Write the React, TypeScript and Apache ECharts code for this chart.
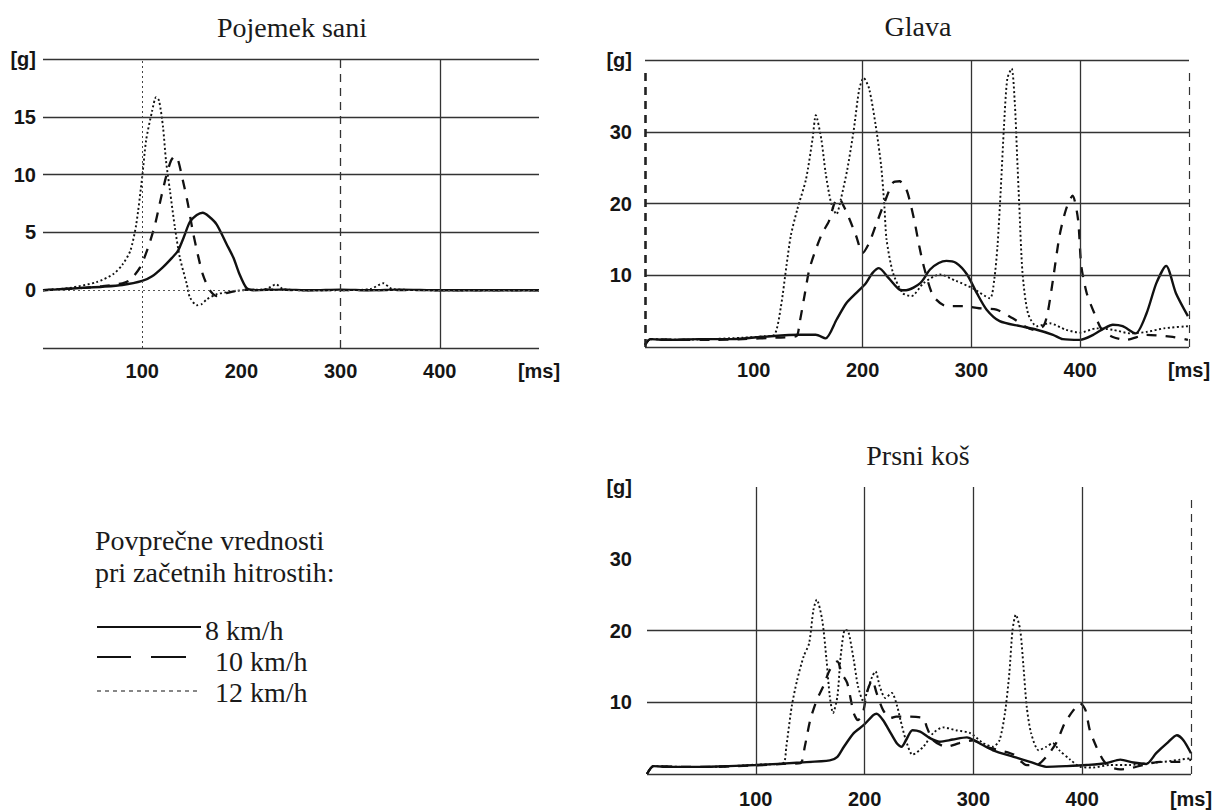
import React, { useEffect, useRef } from "react";
import * as echarts from "echarts";

// ---------- data (time in ms, acceleration in g) ----------
const panelTitles = ["Pojemek sani", "Glava", "Prsni koš"];
const legendHeader = ["Povprečne vrednosti", "pri začetnih hitrostih:"];
const legendNames = ["8 km/h", "10 km/h", "12 km/h"];

const xTickMax = 500;
const xTickStep = 100;

// Pojemek sani
const sani8: [number, number][] = [
  [0, 0], [20, 0.1], [40, 0.2], [60, 0.3], [80, 0.45], [100, 0.8], [110, 1.2], [121, 2.0], [130, 2.8],
  [136, 3.4], [142, 4.6], [148, 5.9], [155, 6.5], [161, 6.7], [167, 6.4], [175, 5.7], [185, 4.0],
  [192, 2.8], [198, 1.4], [205, 0.2], [212, 0], [240, 0.05], [270, 0], [300, 0.05], [330, 0],
  [360, 0.05], [400, 0], [450, 0], [500, 0],
];
const sani10: [number, number][] = [
  [0, 0], [20, 0.1], [40, 0.2], [60, 0.35], [80, 0.6], [88, 0.9], [98, 2.0], [106, 3.7], [113, 5.7],
  [119, 8.0], [124, 9.8], [129, 11.2], [133, 11.6], [136, 11.3], [141, 9.5], [146, 7.5], [151, 5.1],
  [156, 3.1], [161, 1.4], [168, 0], [175, -0.5], [185, -0.25], [198, 0], [230, 0.05], [260, 0],
  [300, 0], [350, 0], [400, 0], [500, 0],
];
const sani12: [number, number][] = [
  [0, 0], [27, 0.2], [54, 0.7], [71, 1.4], [80, 2.2], [88, 3.4], [94, 5.7], [100, 9.8], [104, 13],
  [110, 15.5], [114, 16.7], [117, 16.4], [121, 14.1], [124, 11.2], [128, 8.6], [133, 5.4], [138, 2.8],
  [145, 0.5], [148, -0.6], [155, -1.3], [160, -1.2], [165, -0.8], [175, -0.35], [188, -0.15],
  [202, 0], [225, 0.1], [235, 0.5], [242, 0.1], [260, 0], [300, 0], [330, 0.1], [343, 0.6],
  [352, 0.1], [400, 0], [500, 0],
];

// Glava
const glava8: [number, number][] = [
  [0, 0.3], [5, 1.1], [20, 1.0], [50, 1.1], [80, 1.1], [111, 1.45], [142, 1.7], [157, 1.7], [166, 1.2],
  [176, 3.8], [185, 6.1], [194, 7.5], [203, 8.9], [209, 10.3], [215, 11.0], [224, 9.6], [234, 8.0],
  [240, 7.9], [253, 8.9], [262, 10.8], [270, 11.7], [277, 12.0], [286, 11.7], [296, 10.1], [305, 7.5],
  [314, 5.2], [326, 3.6], [345, 2.9], [360, 2.4], [375, 1.7], [384, 1.1], [400, 1.0], [412, 1.7],
  [422, 2.6], [430, 3.1], [439, 2.9], [451, 1.9], [461, 4.7], [470, 8.9], [479, 11.3], [488, 7.5],
  [499, 4.3],
];
const glava10: [number, number][] = [
  [0, 0.3], [5, 1.1], [30, 1.0], [60, 1.0], [90, 1.1], [120, 1.3], [139, 1.5], [142, 3.3], [147, 7.5],
  [151, 10.8], [157, 13.6], [163, 15.9], [169, 17.5], [174, 20], [178, 20.8], [183, 19.5], [188, 17.8],
  [194, 15.5], [200, 13.1], [206, 14.5], [212, 16.9], [220, 20.1], [228, 22.9], [234, 23.1], [240, 22],
  [243, 20.6], [248, 17.3], [252, 14.1], [257, 10.8], [265, 7.1], [277, 5.7], [292, 5.7], [307, 5.4],
  [323, 5.2], [338, 4.0], [357, 2.4], [366, 2.9], [370, 4.7], [375, 9.4], [381, 15.5], [387, 19.2],
  [393, 21.1], [398, 17.8], [401, 11.3], [406, 7.5], [413, 4.7], [420, 2.4], [430, 1.4], [442, 1.0],
  [461, 1.7], [485, 1.4], [499, 1.0],
];
const glava12: [number, number][] = [
  [0, 0.3], [5, 1.1], [30, 1.0], [60, 1.1], [90, 1.3], [110, 1.5], [119, 1.7], [125, 5.7], [130, 11.3],
  [134, 15.5], [140, 19.2], [148, 23.4], [154, 29.0], [157, 32.3], [162, 29.0], [166, 24.3], [171, 20.1],
  [176, 18.5], [180, 20.6], [186, 24.8], [192, 30.4], [197, 36], [201, 37.5], [206, 36], [212, 30.9],
  [217, 25.3], [220, 19.7], [222, 15], [228, 10.3], [237, 7.5], [245, 7.1], [256, 8.9], [271, 10.1],
  [286, 9.2], [301, 8.2], [317, 6.8], [321, 9.4], [324, 14.1], [327, 22], [330, 30.9], [333, 37.4],
  [337, 38.8], [340, 33.7], [342, 26.7], [344, 19.7], [347, 10.3], [352, 4.7], [360, 2.9], [372, 3.3],
  [387, 2.4], [400, 2.0], [415, 2.6], [430, 2.4], [446, 1.9], [461, 2.1], [477, 2.6], [499, 2.9],
];

// Prsni koš
const prsni8: [number, number][] = [
  [0, 0], [6, 1.1], [20, 1.0], [49, 1.0], [75, 1.1], [100, 1.25], [141, 1.6], [168, 1.9], [175, 2.4],
  [181, 3.8], [190, 5.7], [199, 6.8], [208, 8.2], [211, 8.4], [217, 7.5], [224, 5.7], [230, 4.2],
  [234, 3.8], [238, 4.7], [244, 6.1], [251, 5.9], [260, 5.0], [269, 4.5], [281, 4.8], [294, 5.1],
  [303, 4.5], [318, 3.3], [337, 2.4], [352, 1.7], [367, 1.0], [386, 1.1], [404, 1.25], [422, 1.5],
  [435, 2.0], [447, 1.6], [459, 1.4], [468, 2.9], [478, 4.3], [487, 5.4], [493, 4.7], [500, 2.9],
];
const prsni10: [number, number][] = [
  [0, 0], [6, 1.1], [30, 1.0], [60, 1.0], [100, 1.2], [125, 1.4], [141, 1.5], [145, 3.8], [150, 7.5],
  [156, 10.3], [162, 12.2], [168, 14.5], [175, 15.7], [179, 14.0], [184, 12.7], [190, 8.5], [194, 7.5],
  [199, 8.9], [202, 11.3], [207, 13.1], [211, 11.3], [217, 8.9], [224, 7.8], [229, 8.0], [238, 8.0],
  [254, 7.8], [257, 6.6], [263, 4.7], [275, 3.8], [287, 4.3], [300, 4.7], [312, 3.8], [324, 3.3],
  [337, 2.7], [349, 1.25], [358, 1.25], [367, 2.4], [376, 4.3], [384, 7.1], [392, 8.9], [398, 9.9],
  [403, 8.9], [407, 6.1], [413, 3.8], [419, 2.0], [425, 1.0], [435, 0.65], [444, 0.8], [456, 1.25],
  [472, 1.7], [490, 1.7], [500, 2.0],
];
const prsni12: [number, number][] = [
  [0, 0], [6, 1.1], [30, 1.0], [60, 1.0], [100, 1.3], [125, 1.5], [128, 3.8], [133, 9.4], [138, 13.1],
  [144, 16.4], [149, 18.2], [153, 22.9], [156, 24.3], [161, 21.5], [165, 15.9], [168, 10.8], [171, 8.5],
  [175, 10.8], [178, 16.4], [182, 20.1], [185, 19.9], [190, 15.9], [194, 12.2], [199, 10.1], [202, 11.3],
  [207, 13.6], [210, 14.3], [214, 12.2], [219, 10.6], [225, 11.3], [230, 9.4], [233, 7.5], [238, 4.7],
  [244, 2.7], [254, 3.8], [263, 5.7], [272, 6.5], [284, 6.1], [297, 5.7], [309, 4.3], [318, 3.8],
  [324, 4.7], [329, 8.5], [333, 14.0], [336, 20.1], [339, 22.2], [343, 20.1], [346, 15.0], [349, 9.4],
  [353, 5.7], [360, 3.3], [367, 3.8], [373, 4.3], [379, 3.3], [389, 2.0], [398, 1.0], [410, 0.9],
  [425, 1.25], [444, 1.25], [459, 1.5], [475, 1.7], [490, 2.0], [500, 2.2],
];

// axis ranges and grid line positions
const yRanges = [
  { min: -5, max: 20, step: 5 },
  { min: 0, max: 40, step: 10 },
  { min: 0, max: 40, step: 10 },
];
const saniHLines = [20, 15, 10, 5, -5];
const glavaHLines = [40, 30, 20, 10, 0];
const prsniHLines = [20, 10, 0];
const saniSolidV = [400];
const glavaSolidV = [200, 300, 400];
const prsniSolidV = [100, 200, 300, 400];

// ---------- styling ----------
const INK = "#111";
const GRID = "#333";
const curveStyles = [
  { color: INK, width: 2.4, type: "solid" as any },
  { color: INK, width: 2.3, type: [10, 9] as any },
  { color: INK, width: 1.9, type: [2, 2.5] as any },
];
const tickFont = {
  fontFamily: "Liberation Sans",
  fontWeight: "bold" as const,
  fontSize: 20,
  color: "#151515",
};
const SERIF = "Liberation Serif";

const seg = (a: [number, number], b: [number, number], style: any) => [
  { coord: a, lineStyle: style },
  { coord: b, lineStyle: style },
];
const solidGrid = { color: GRID, width: 1.3, type: "solid" };

function gridLines(panel: number) {
  const items: any[] = [];
  if (panel === 0) {
    saniHLines.forEach((v) => items.push(seg([0, v], [500, v], solidGrid)));
    items.push(seg([0, 0], [500, 0], { color: "#555", width: 1, type: [2, 3] }));
    saniSolidV.forEach((v) => items.push(seg([v, -5], [v, 20], solidGrid)));
    items.push(seg([100, -5], [100, 20], { color: "#444", width: 1, type: [2, 3] }));
    items.push(seg([300, -5], [300, 20], { color: "#333", width: 1.3, type: [8, 6] }));
  } else if (panel === 1) {
    glavaHLines.forEach((v) => items.push(seg([0, v], [500, v], solidGrid)));
    glavaSolidV.forEach((v) => items.push(seg([v, 0], [v, 40], solidGrid)));
    items.push(seg([0, 0], [0, 38.8], { color: "#222", width: 2.6, type: [8, 6] }));
    items.push(seg([500, 0], [500, 38.8], { color: "#333", width: 1.2, type: [8, 6] }));
  } else {
    prsniHLines.forEach((v) => items.push(seg([0, v], [500, v], solidGrid)));
    prsniSolidV.forEach((v) => items.push(seg([v, 0], [v, 40], solidGrid)));
    items.push(seg([500, 0], [500, 39], { color: "#333", width: 1.2, type: [8, 6] }));
  }
  return items;
}

const panelData = [
  [sani8, sani10, sani12],
  [glava8, glava10, glava12],
  [prsni8, prsni10, prsni12],
];

function buildOption() {
  const grids = [
    { left: 43, top: 59, width: 496, height: 289 },
    { left: 645, top: 60, width: 544, height: 287 },
    { left: 647, top: 487, width: 544, height: 287 },
  ];
  const xMargins = [13, 13, 15];
  const yMargins = [7, 13, 15];
  const xAxis = grids.map((_, i) => ({
    type: "value",
    gridIndex: i,
    min: 0,
    max: xTickMax,
    interval: xTickStep,
    axisLine: { show: false },
    axisTick: { show: false },
    splitLine: { show: false },
    axisLabel: {
      ...tickFont,
      margin: xMargins[i],
      hideOverlap: false,
      formatter: (v: number) => (v === 0 ? "" : v === xTickMax ? "[ms]" : String(v)),
    },
  }));
  const yAxis = grids.map((_, i) => ({
    type: "value",
    gridIndex: i,
    min: yRanges[i].min,
    max: yRanges[i].max,
    interval: yRanges[i].step,
    axisLine: { show: false },
    axisTick: { show: false },
    splitLine: { show: false },
    axisLabel: {
      ...tickFont,
      margin: yMargins[i],
      formatter: (v: number) =>
        v === yRanges[i].max ? "[g]" : v === yRanges[i].min ? "" : String(v),
    },
  }));
  const series: any[] = [];
  grids.forEach((_, i) => {
    series.push({
      type: "line",
      xAxisIndex: i,
      yAxisIndex: i,
      data: [],
      silent: true,
      z: 1,
      markLine: {
        symbol: ["none", "none"],
        silent: true,
        animation: false,
        label: { show: false },
        emphasis: { disabled: true },
        data: gridLines(i),
      },
    });
    panelData[i].forEach((d, k) => {
      series.push({
        type: "line",
        name: legendNames[k],
        xAxisIndex: i,
        yAxisIndex: i,
        data: d,
        smooth: 0.25,
        showSymbol: false,
        silent: true,
        z: 3,
        lineStyle: curveStyles[k],
      });
    });
  });

  // serif texts: only family + size (no weight), which renders in Liberation Serif
  const txt = (text: string, x: number, y: number, align: string) => ({
    type: "text",
    x,
    y,
    silent: true,
    style: {
      text,
      fill: "#1a1a1a",
      fontSize: 28,
      fontFamily: SERIF,
      align,
      verticalAlign: "middle",
    },
  });
  const lg = (y: number, x1: number, x2: number, width: number, dash: any) => ({
    type: "line",
    silent: true,
    shape: { x1, y1: y, x2, y2: y },
    style: { stroke: INK, lineWidth: width, lineDash: dash },
  });

  const graphic = [
    txt(panelTitles[0], 292, 27, "center"),
    txt(panelTitles[1], 918, 26, "center"),
    txt(panelTitles[2], 918, 455, "center"),
    txt(legendHeader[0], 95, 540, "left"),
    txt(legendHeader[1], 95, 572, "left"),
    lg(627, 97, 201, 2.2, null),
    lg(657, 97, 131, 2.2, null),
    lg(657, 151, 186, 2.2, null),
    lg(691, 97, 201, 1.2, [4, 4]),
    txt(legendNames[0], 205, 630, "left"),
    txt(legendNames[1], 215, 661, "left"),
    txt(legendNames[2], 215, 692, "left"),
  ];

  return {
    animation: false,
    backgroundColor: "#ffffff",
    grid: grids,
    xAxis,
    yAxis,
    series,
    graphic,
  };
}

export default function App() {
  const ref = useRef<HTMLDivElement>(null);
  useEffect(() => {
    if (!ref.current) return;
    const chart = echarts.init(ref.current, null, { renderer: "svg" });
    chart.setOption(buildOption() as any);
    return () => chart.dispose();
  }, []);
  return (
    <div
      ref={ref}
      style={{ position: "absolute", left: 0, top: 0, width: 1220, height: 810, background: "#fff" }}
    />
  );
}
